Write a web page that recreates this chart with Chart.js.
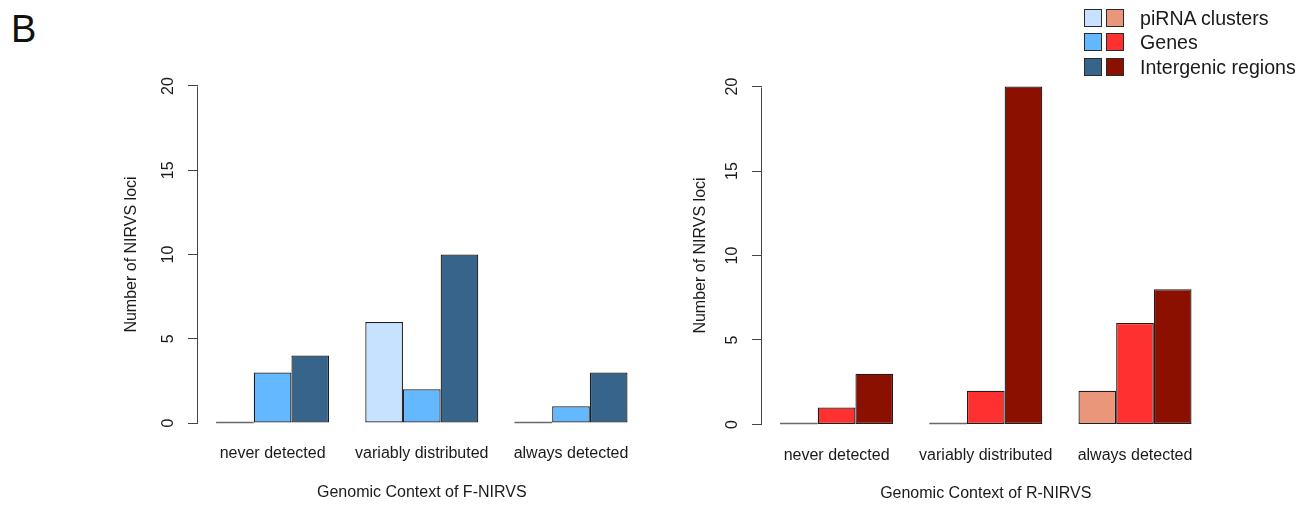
<!DOCTYPE html>
<html>
<head>
<meta charset="utf-8">
<script src="https://cdn.jsdelivr.net/npm/chart.js@4.4.1/dist/chart.umd.min.js"></script>
<style>
  html, body { margin:0; padding:0; background:#fff; }
  body { width:1311px; height:506px; position:relative; overflow:hidden; font-family:"Liberation Sans", Arial, sans-serif; color:#1a1a1a; }
  .panel { position:absolute; top:0; }
  #panelLabel { position:absolute; left:11px; top:10px; font-size:38px; line-height:38px; color:#111; }
  .lrow { position:absolute; left:1084px; height:24px; display:flex; align-items:center; font-size:19.6px; line-height:24px; white-space:nowrap; }
  .sw { width:16px; height:16px; border:1px solid #2a2a2a; margin-right:4px; flex:none; }
  .sw + .sw { margin-right:16px; }
</style>
</head>
<body>
<div id="panelLabel">B</div>
<div class="panel" style="left:0;width:660px;height:506px;"><canvas id="cF" width="660" height="506"></canvas></div>
<div class="panel" style="left:660px;width:651px;height:506px;"><canvas id="cR" width="651" height="506"></canvas></div>
<div id="legend"></div>
<script>
// ---- data ----
const categories = ['never detected', 'variably distributed', 'always detected'];
const seriesNames = ['piRNA clusters', 'Genes', 'Intergenic regions'];
const fPirna = [0, 6, 0];
const fGenes = [3, 2, 1];
const fIntergenic = [4, 10, 3];
const rPirna = [0, 0, 2];
const rGenes = [1, 2, 6];
const rIntergenic = [3, 20, 8];
const yTicks = [0, 5, 10, 15, 20];
const blueColors = ['#C6E2FF', '#63B8FF', '#36648B'];
const redColors = ['#E9967A', '#FF3030', '#8B1000'];
const xTitleF = 'Genomic Context of F-NIRVS';
const xTitleR = 'Genomic Context of R-NIRVS';
const yTitle = 'Number of NIRVS loci';

// ---- legend ----
const legendRowsCenter = [17.5, 42, 66.5];
const legend = document.getElementById('legend');
seriesNames.forEach((name, i) => {
  const row = document.createElement('div');
  row.className = 'lrow';
  row.style.top = (legendRowsCenter[i] - 12) + 'px';
  const a = document.createElement('span'); a.className = 'sw'; a.style.background = blueColors[i];
  const b = document.createElement('span'); b.className = 'sw'; b.style.background = redColors[i];
  const t = document.createElement('span'); t.textContent = name;
  row.appendChild(a); row.appendChild(b); row.appendChild(t);
  legend.appendChild(row);
});

const FONT = '"Liberation Sans", Arial, sans-serif';
const TXT = '#1a1a1a';

const axisPlugin = {
  id: 'rAxis',
  afterDatasetsDraw(chart) {
    const ctx = chart.ctx;
    const ys = chart.scales.y;
    ctx.save();
    ctx.lineWidth = 1;
    // y axis line spanning first to last tick (R style)
    ctx.strokeStyle = '#444';
    const px = Math.round(chart.chartArea.left) - 0.5;
    ctx.beginPath();
    ctx.moveTo(px, Math.round(ys.getPixelForValue(yTicks[0])) + 0.5);
    ctx.lineTo(px, Math.round(ys.getPixelForValue(yTicks[yTicks.length - 1])) + 0.5);
    ctx.stroke();
    // zero-height bars drawn as a flat outline
    ctx.strokeStyle = '#6a6a6a';
    ctx.lineWidth = 1.3;
    chart.data.datasets.forEach((ds, di) => {
      const meta = chart.getDatasetMeta(di);
      meta.data.forEach((el, i) => {
        if (ds.data[i] === 0) {
          const yb = Math.round(el.base) - 0.5;
          ctx.beginPath();
          ctx.moveTo(el.x - el.width / 2, yb);
          ctx.lineTo(el.x + el.width / 2, yb);
          ctx.stroke();
        }
      });
    });
    ctx.restore();
  }
};

function makeChart(id, series, colors, xTitle, g) {
  return new Chart(document.getElementById(id), {
    type: 'bar',
    data: {
      labels: categories,
      datasets: series.map((d, i) => ({
        label: seriesNames[i],
        data: d,
        backgroundColor: colors[i],
        borderColor: '#1e1e1e',
        borderWidth: 1.25,
        borderSkipped: false,
        categoryPercentage: 0.7576,
        barPercentage: 1.0
      }))
    },
    options: {
      responsive: false,
      animation: false,
      devicePixelRatio: 1,
      layout: { padding: { top: g.top, right: g.right, left: 0, bottom: 0 } },
      plugins: { legend: { display: false }, tooltip: { enabled: false } },
      scales: {
        x: {
          type: 'category',
          grid: { display: false, drawTicks: false },
          border: { display: false },
          ticks: { color: TXT, font: { family: FONT, size: 16 }, padding: 7.5, maxRotation: 0, minRotation: 0, autoSkip: false },
          title: { display: true, text: xTitle, color: TXT, font: { family: FONT, size: 16 }, padding: { top: 0, bottom: g.xTitlePad } },
          afterFit(s) { s.height = g.xAxisH; }
        },
        y: {
          type: 'linear',
          min: -0.8, max: 20.8,
          afterBuildTicks(s) { s.ticks = yTicks.map(v => ({ value: v })); },
          grid: { drawOnChartArea: false, drawTicks: true, tickLength: 10, color: '#444', tickColor: '#444', lineWidth: 1 },
          border: { display: false },
          ticks: { color: TXT, font: { family: FONT, size: 16 }, padding: 11, minRotation: 90, maxRotation: 90, crossAlign: 'center' },
          title: { display: true, text: yTitle, color: TXT, font: { family: FONT, size: 16 }, padding: { top: g.yTitlePad, bottom: 0 } },
          afterFit(s) { s.width = g.yAxisW; }
        }
      }
    },
    plugins: [axisPlugin]
  });
}

makeChart('cF', [fPirna, fGenes, fIntergenic], blueColors, xTitleF,
  { top: 72.5, right: 14.4, yAxisW: 198, xAxisH: 69.5, xTitlePad: 3.9, yTitlePad: 121.9 });
makeChart('cR', [rPirna, rGenes, rIntergenic], redColors, xTitleR,
  { top: 73, right: 101.4, yAxisW: 102, xAxisH: 68, xTitlePad: 2.6, yTitlePad: 30.9 });
</script>
</body>
</html>
